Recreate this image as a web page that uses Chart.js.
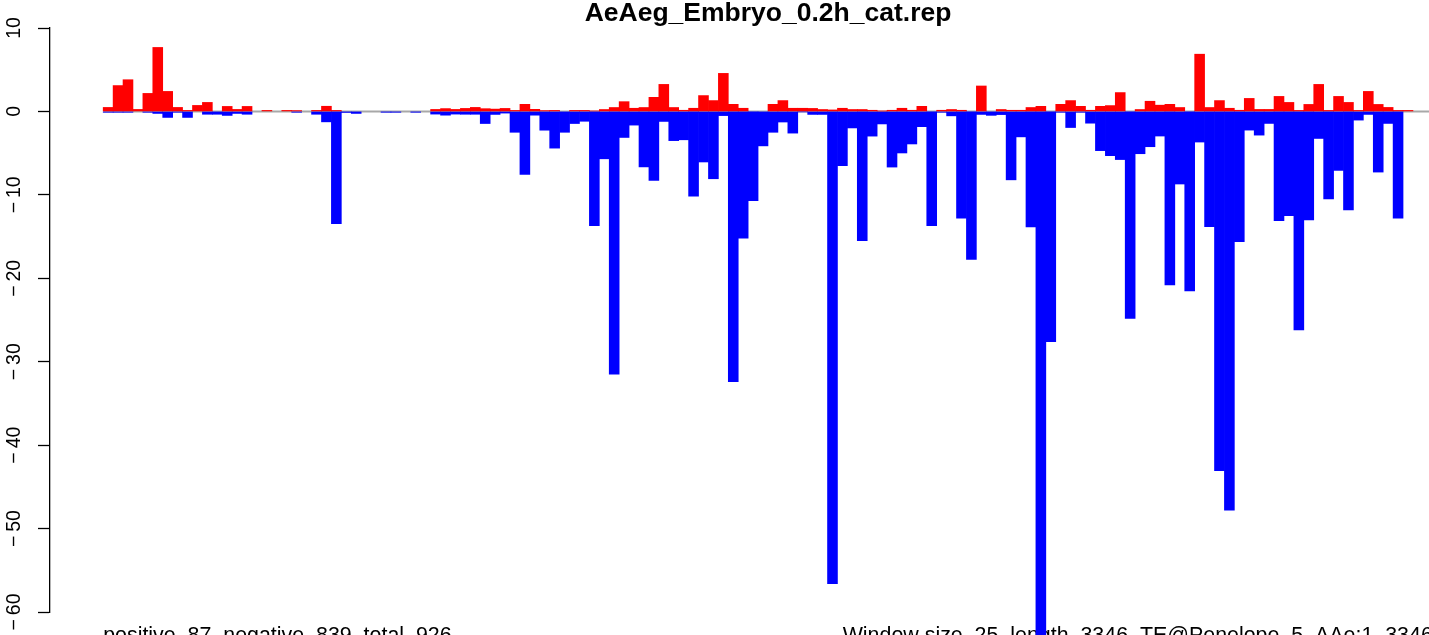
<!DOCTYPE html>
<html>
<head>
<meta charset="utf-8">
<title>AeAeg_Embryo_0.2h_cat.rep</title>
<script src="https://cdn.jsdelivr.net/npm/chart.js@4/dist/chart.umd.min.js"></script>
<style>
  html, body { margin: 0; padding: 0; overflow: hidden; background: #fff; }
  canvas { display: block; }
</style>
</head>
<body>
<canvas id="repChart" width="1536" height="640"></canvas>
<script>
const chartTitle = "AeAeg_Embryo_0.2h_cat.rep";
const teName = "TE@Penelope_5_AAe";
const windowSize = 25;
const seqLength = 3346;
const countPositive = 87;
const countNegative = 839;
const countTotal = 926;

const yTicks = [10, 0, -10, -20, -30, -40, -50, -60];

// one value per window, sense (red) and antisense (blue)
const positive = [
  0.48, 3.1, 3.8, 0.24, 2.16, 7.67, 2.4, 0.48, 0.12, 0.72,
  1.08, 0, 0.6, 0.24, 0.6, 0, 0.12, 0, 0.12, 0.1,
  0, 0.12, 0.62, 0.12, 0, 0, 0, 0, 0, 0,
  0, 0, 0, 0.24, 0.34, 0.24, 0.36, 0.48, 0.33, 0.28,
  0.36, 0.12, 0.85, 0.25, 0.1, 0.12, 0, 0.12, 0.12, 0.06,
  0.23, 0.47, 1.17, 0.38, 0.47, 1.69, 3.24, 0.47, 0.14, 0.38,
  1.9, 1.3, 4.56, 0.85, 0.38, 0, 0, 0.85, 1.3, 0.38,
  0.38, 0.36, 0.23, 0.18, 0.38, 0.23, 0.23, 0.14, 0.05, 0.14,
  0.38, 0.14, 0.61, 0, 0.14, 0.23, 0.14, 0, 3.05, 0,
  0.23, 0.14, 0.14, 0.47, 0.61, 0, 0.85, 1.3, 0.61, 0.14,
  0.61, 0.7, 2.26, 0, 0.23, 1.22, 0.75, 0.85, 0.47, 0,
  6.86, 0.47, 1.3, 0.38, 0.14, 1.56, 0.24, 0.24, 1.8, 1.08,
  0.12, 0.84, 3.24, 0.12, 1.8, 1.08, 0.12, 2.4, 0.84, 0.48,
  0.12, 0.12, 0, 0
];

const negative = [
  -0.1, -0.1, -0.1, 0, -0.1, -0.24, -0.72, -0.1, -0.72, 0,
  -0.34, -0.34, -0.48, -0.24, -0.34, 0, 0, 0, 0, -0.1,
  0, -0.34, -1.25, -13.45, -0.12, -0.24, 0, 0, -0.1, -0.1,
  0, -0.1, 0, -0.32, -0.45, -0.32, -0.34, -0.34, -1.45, -0.36,
  -0.2, -2.5, -7.55, -0.45, -2.25, -4.4, -2.5, -1.45, -1.18, -13.7,
  -5.68, -31.5, -3.12, -1.64, -6.65, -8.27, -1.2, -3.5, -3.4, -10.15,
  -6.06, -8.07, -0.5, -32.4, -15.2, -10.7, -4.13, -2.5, -1.27, -2.6,
  -0.05, -0.36, -0.36, -56.6, -6.5, -1.98, -15.5, -2.96, -1.5, -6.67,
  -4.98, -3.9, -1.83, -13.7, -0.1, -0.53, -12.8, -17.75, -0.36, -0.47,
  -0.38, -8.2, -3.05, -13.85, -66, -27.6, -0.1, -1.93, -0.1, -1.41,
  -4.7, -5.3, -5.77, -24.8, -5.07, -4.23, -2.95, -20.8, -8.7, -21.5,
  -3.67, -13.8, -43.05, -47.8, -15.6, -2.24, -2.84, -1.44, -13.1, -12.5,
  -26.2, -13.0, -3.24, -10.5, -7.07, -11.8, -1.04, -0.36, -7.27, -1.44,
  -12.8, 0, 0, 0
];

const fontFamily = "'Liberation Sans', Arial, Helvetica, sans-serif";

// bars sit on window centres; empty windows are left out
function toPoints(values) {
  return values.map((v, i) => ({ x: i + 0.5, y: v === 0 ? null : v }));
}

// R draws a wide minus sign on the axis
function minusLabel(value) {
  return value < 0 ? "\u2212\u2009" + Math.abs(value) : String(value);
}

// zero line and the two footer lines, drawn under the bars like in R
const rDecorations = {
  id: "rDecorations",
  beforeDatasetsDraw(chart) {
    const { ctx, chartArea, scales: { x, y } } = chart;
    const zero = y.getPixelForValue(0);
    ctx.save();
    ctx.strokeStyle = "#a8a8a8";
    ctx.lineWidth = 2;
    ctx.beginPath();
    ctx.moveTo(x.getPixelForValue(0), zero);
    ctx.lineTo(chartArea.right, zero);
    ctx.stroke();

    ctx.fillStyle = "#000";
    ctx.font = "21.4px " + fontFamily;
    ctx.textBaseline = "top";
    const textY = chartArea.bottom + 13;
    ctx.textAlign = "left";
    ctx.fillText(
      `positive  ${countPositive}  negative  ${countNegative}  total  ${countTotal}`,
      x.getPixelForValue(0), textY);
    ctx.textAlign = "right";
    ctx.fillText(
      `Window size  ${windowSize}  length  ${seqLength}  ${teName}:1..${seqLength}`,
      x.getPixelForValue(positive.length), textY);
    ctx.restore();
  }
};

const ctx = document.getElementById("repChart").getContext("2d");

new Chart(ctx, {
  type: "bar",
  data: {
    datasets: [
      {
        label: "positive",
        data: toPoints(positive),
        backgroundColor: "#ff0000",
        borderWidth: 0,
        barPercentage: 1,
        categoryPercentage: 1,
        clip: false
      },
      {
        label: "negative",
        data: toPoints(negative),
        backgroundColor: "#0000ff",
        borderWidth: 0,
        barPercentage: 1,
        categoryPercentage: 1,
        clip: false
      }
    ]
  },
  options: {
    responsive: false,
    animation: false,
    devicePixelRatio: 1,
    layout: { padding: { left: 0, right: 0, top: 0, bottom: 28 } },
    plugins: {
      legend: { display: false },
      tooltip: { enabled: false },
      title: {
        display: true,
        text: chartTitle,
        color: "#000",
        font: { family: fontFamily, size: 26.5, weight: "bold", lineHeight: 1 },
        padding: { top: 0, bottom: 1.5 }
      }
    },
    scales: {
      x: {
        type: "linear",
        display: false,
        stacked: true,
        offset: false,
        min: -5.36,
        max: 144.4
      },
      y: {
        stacked: true,
        min: -60,
        max: 10,
        afterFit(scale) { scale.width = 50; },
        afterBuildTicks(scale) { scale.ticks = yTicks.map(v => ({ value: v })); },
        border: { display: true, color: "#000", width: 1.3 },
        grid: {
          drawOnChartArea: false,
          drawTicks: true,
          tickLength: 12,
          tickColor: "#000",
          tickWidth: 1.3
        },
        ticks: {
          minRotation: 90,
          maxRotation: 90,
          crossAlign: "center",
          padding: 5,
          color: "#000",
          font: { family: fontFamily, size: 19.5 },
          callback: minusLabel
        }
      }
    }
  },
  plugins: [rDecorations]
});
</script>
</body>
</html>
